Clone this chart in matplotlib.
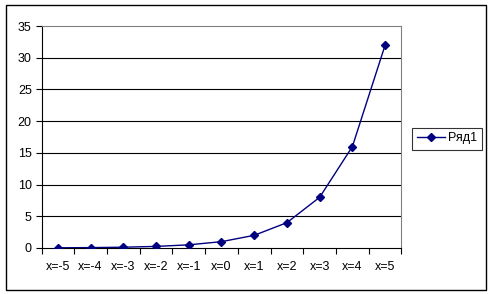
import matplotlib
matplotlib.use("Agg")
import matplotlib.pyplot as plt
from matplotlib.patches import Rectangle
import numpy as np

categories = ["x=-5", "x=-4", "x=-3", "x=-2", "x=-1", "x=0", "x=1", "x=2", "x=3", "x=4", "x=5"]
values = [0.03125, 0.0625, 0.125, 0.25, 0.5, 1, 2, 4, 8, 16, 32]
series_name = "Ряд1"
yticks = [0, 5, 10, 15, 20, 25, 30, 35]

plt.rcParams['font.family'] = ['Liberation Sans', 'DejaVu Sans']
fs = 9

fig = plt.figure(figsize=(4.91, 2.94), dpi=100)
# outer chart border
fig.patches.append(Rectangle((5.5/491, 4.5/294), 480/491, 284.5/294, transform=fig.transFigure,
                             fill=False, edgecolor='black', linewidth=1.0))

ax = fig.add_axes([41.5/491, 46/294, 360/491, 222/294])
x = np.arange(len(categories))
line, = ax.plot(x, values, color='#000080', linewidth=1.0, marker='D', markersize=4,
                markerfacecolor='#000080', markeredgecolor='#000080', label=series_name, zorder=3)

ax.set_xlim(-0.5, len(categories) - 0.5)
ax.set_ylim(0, 35)
ax.set_yticks(yticks)
ax.set_yticklabels([str(v) for v in yticks], fontsize=fs)
ax.set_xticks(x)
ax.set_xticklabels(categories, fontsize=fs)
ax.tick_params(axis='x', which='major', length=0, pad=9)
ax.set_xticks(np.arange(-0.5, len(categories)), minor=True)
ax.tick_params(axis='x', which='minor', length=4, width=0.8, direction='out')
ax.tick_params(axis='y', length=4, width=0.8, direction='out', pad=3)

for v in yticks[1:-1]:
    ax.axhline(v, color='black', linewidth=0.8, zorder=1)

for s in ['left', 'bottom']:
    ax.spines[s].set_color('black')
    ax.spines[s].set_linewidth(0.8)
for s in ['top', 'right']:
    ax.spines[s].set_color('#808080')
    ax.spines[s].set_linewidth(0.8)

leg = fig.legend(handles=[line], labels=[series_name], loc='center left',
                 bbox_to_anchor=(412/491, 1 - 138.5/294), fontsize=fs, frameon=True,
                 fancybox=False, edgecolor='black', handlelength=2.2, handletextpad=0.3,
                 borderpad=0.4, borderaxespad=0)
leg.get_frame().set_linewidth(0.8)

fig.savefig("out.png", dpi=100)
